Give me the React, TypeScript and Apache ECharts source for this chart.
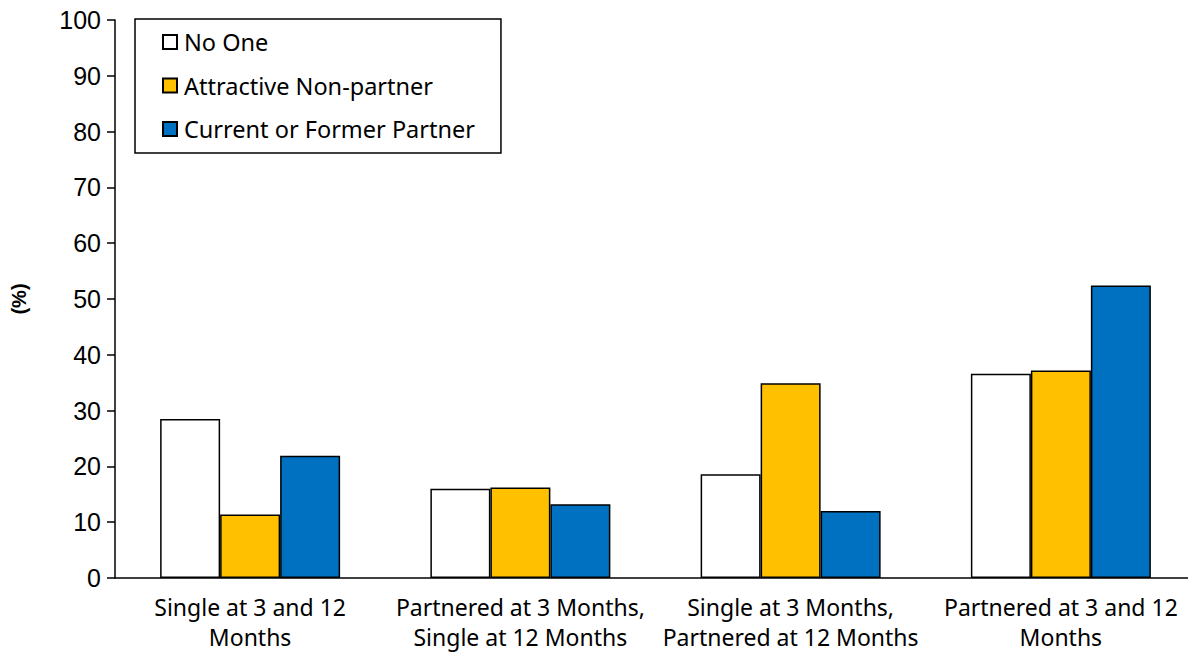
import React, { useEffect, useRef } from "react";
import * as echarts from "echarts";

const categories = [
  "Single at 3 and 12\nMonths",
  "Partnered at 3 Months,\nSingle at 12 Months",
  "Single at 3 Months,\nPartnered at 12 Months",
  "Partnered at 3 and 12\nMonths",
];
const noOne = [28.5, 16.0, 18.6, 36.6];
const attractiveNonPartner = [11.4, 16.2, 34.9, 37.2];
const currentOrFormerPartner = [21.9, 13.2, 12.0, 52.4];

const seriesNames = ["No One", "Attractive Non-partner", "Current or Former Partner"];
const seriesColors = ["#FFFFFF", "#FFC000", "#0070C0"];

export default function App() {
  const ref = useRef<HTMLDivElement>(null);

  useEffect(() => {
    if (!ref.current) return;
    const chart = echarts.init(ref.current, undefined, { renderer: "svg" });
    const values = [noOne, attractiveNonPartner, currentOrFormerPartner];
    chart.setOption({
      animation: false,
      backgroundColor: "#FFFFFF",
      textStyle: { fontFamily: "Liberation Sans, Arial, sans-serif" },
      // plot area runs slightly past the visible right edge
      grid: { left: 115, top: 20, width: 1081, height: 558, containLabel: false },
      legend: {
        orient: "vertical",
        left: 135,
        top: 19,
        padding: [11, 26, 12, 27],
        borderColor: "#000000",
        borderWidth: 1.5,
        backgroundColor: "#FFFFFF",
        itemWidth: 14,
        itemHeight: 14,
        itemGap: 19.5,
        icon: "rect",
        textStyle: { fontSize: 23.5, color: "#000000", fontFamily: "Noto Sans, sans-serif", padding: [0, 0, 0, 2] },
        data: seriesNames,
      },
      xAxis: {
        type: "category",
        data: categories,
        axisLine: { lineStyle: { color: "#000000", width: 1.5 } },
        axisTick: { show: false },
        axisLabel: {
          color: "#000000",
          fontSize: 23,
          lineHeight: 30,
          margin: 14,
          fontFamily: "Noto Sans, sans-serif",
          interval: 0,
        },
      },
      yAxis: {
        type: "value",
        min: 0,
        max: 100,
        interval: 10,
        name: "(%)",
        nameLocation: "middle",
        nameGap: 86,
        nameRotate: 90,
        nameTextStyle: { fontSize: 20, fontWeight: "bold", color: "#000000" },
        axisLine: { show: true, lineStyle: { color: "#000000", width: 1.5 } },
        axisTick: { show: true, length: 8, lineStyle: { color: "#000000", width: 1.5 } },
        axisLabel: { color: "#000000", fontSize: 25, margin: 14 },
        splitLine: { show: false },
      },
      series: seriesNames.map((name, i) => ({
        name,
        type: "bar",
        data: values[i],
        barGap: "0%",
        barCategoryGap: "33.4%",
        itemStyle: { color: seriesColors[i], borderColor: "#000000", borderWidth: 1.5 },
      })),
    });
    return () => chart.dispose();
  }, []);

  return (
    <div
      style={{ position: "fixed", left: 0, top: 0, width: 1188, height: 652, overflow: "hidden", background: "#FFFFFF" }}
    >
      <div ref={ref} style={{ width: 1200, height: 652 }} />
    </div>
  );
}
